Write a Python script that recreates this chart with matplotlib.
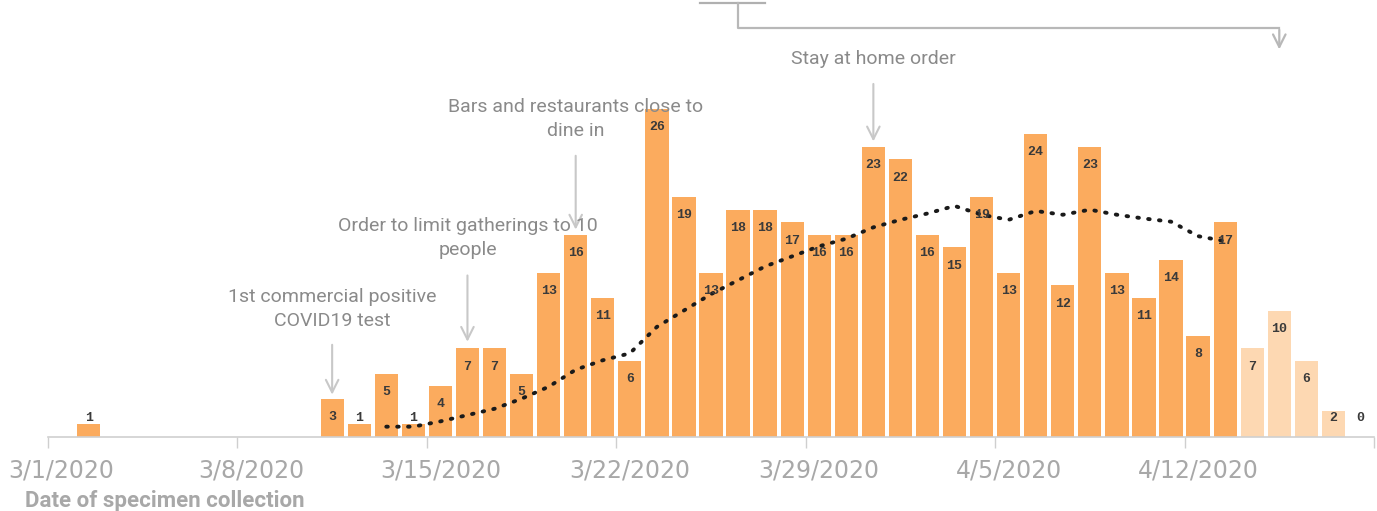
import matplotlib.pyplot as plt

# daily positive cases by date of specimen collection (3/1/2020 .. 4/18/2020)
dates = ["3/1", "3/2", "3/3", "3/4", "3/5", "3/6", "3/7", "3/8", "3/9", "3/10",
         "3/11", "3/12", "3/13", "3/14", "3/15", "3/16", "3/17", "3/18", "3/19", "3/20",
         "3/21", "3/22", "3/23", "3/24", "3/25", "3/26", "3/27", "3/28", "3/29", "3/30",
         "3/31", "4/1", "4/2", "4/3", "4/4", "4/5", "4/6", "4/7", "4/8", "4/9",
         "4/10", "4/11", "4/12", "4/13", "4/14", "4/15", "4/16", "4/17", "4/18"]
cases = [0, 1, 0, 0, 0, 0, 0, 0, 0, 0,
         3, 1, 5, 1, 4, 7, 7, 5, 13, 16,
         11, 6, 26, 19, 13, 18, 18, 17, 16, 16,
         23, 22, 16, 15, 19, 13, 24, 12, 23, 13,
         11, 14, 8, 17, 7, 10, 6, 2, 0]
# days whose counts are still incomplete (lighter bars)
n_complete = 44
labelled_from = 10  # zero days before 3/11 carry no label

# moving average line, starts 3/13, ends 4/13
avg_start = 12
avg_values = [0.78, 0.78, 1.2, 1.7, 2.2, 3.0, 3.95, 5.3, 6.05, 6.6,
              8.7, 10.0, 11.3, 12.4, 13.5, 14.3, 15.1, 15.7, 16.6, 17.2,
              17.7, 18.3, 17.6, 17.2, 17.9, 17.6, 18.0, 17.6, 17.3, 17.05,
              15.9, 15.5]

tick_days = [0, 7, 14, 21, 28, 35, 42]
tick_labels = ["3/1/2020", "3/8/2020", "3/15/2020", "3/22/2020",
               "3/29/2020", "4/5/2020", "4/12/2020"]

# annotations: (day index, text lines, first line y, arrow start y, arrow end y)
events = [
    (10, ["1st commercial positive", "COVID19 test"], 11.1, 7.5, 3.1),
    (15, ["Order to limit gatherings to 10", "people"], 16.7, 13.0, 7.3),
    (19, ["Bars and restaurants close to", "dine in"], 26.15, 22.5, 16.2),
    (30, ["Stay at home order"], 30.0, 28.2, 23.2),
]
line_step = 1.9

orange = "#fbab5e"
light = "#fdd8b2"
grey_txt = "#8a8a8a"

fig = plt.figure(figsize=(13.77, 5.11), dpi=100)
ax = fig.add_axes([48 / 1377, 74.5 / 511, 1326 / 1377, 436.5 / 511])

x = list(range(len(cases)))
colors = [orange if i < n_complete else light for i in x]
ax.bar(x, cases, width=0.86, color=colors, zorder=2)

for i, v in enumerate(cases):
    if i < labelled_from and v == 0:
        continue
    ax.text(i, max(v - 1.45, 1.45), str(v), ha="center", va="center",
            fontsize=9.5, family="Liberation Mono", weight="bold", color="#3a3a3a", zorder=4)

avg_x = list(range(avg_start, avg_start + len(avg_values)))
ax.plot(avg_x, avg_values, color="#1a1a1a", lw=2.8, linestyle=(0, (0.4, 2.4)),
        dash_capstyle="round", zorder=3)

for d, lines, ty, y0, y1 in events:
    for k, line in enumerate(lines):
        ax.text(d, ty - k * line_step, line, ha="center", va="center", fontsize=14,
                family="Roboto", color=grey_txt, zorder=5)
    ax.annotate("", xy=(d, y1), xytext=(d, y0),
                arrowprops=dict(arrowstyle="->,head_length=0.9,head_width=0.45",
                                color="#c8c8c8", lw=1.5), zorder=1)

# bracket at the top leading to the lighter bars
ax.plot([23.6, 26.0], [34.4, 34.4], color="#b0b0b0", lw=1.6, clip_on=False)
ax.plot([25.0, 25.0, 45.0], [34.4, 32.4, 32.4], color="#b8b8b8", lw=1.6, clip_on=False)
ax.annotate("", xy=(45.0, 30.5), xytext=(45.0, 32.5),
            arrowprops=dict(arrowstyle="->,head_length=0.9,head_width=0.45",
                            color="#b8b8b8", lw=1.6), annotation_clip=False)

ax.set_xlim(-0.5, len(cases) - 0.5)
ax.set_ylim(0, 436.5 / 12.6)

ax.set_xticks([t - 0.5 for t in tick_days] + [len(cases) - 0.5])
ax.set_xticklabels([])
ax.set_xticks(tick_days, minor=True)
ax.set_xticklabels(tick_labels, minor=True)
ax.tick_params(axis="x", which="major", length=8, color="#cfcfcf", width=1)
ax.tick_params(axis="x", which="minor", length=0, pad=16, labelsize=17, labelcolor="#a8a8a8")
ax.set_yticks([])
for s in ["left", "right", "top"]:
    ax.spines[s].set_visible(False)
ax.spines["bottom"].set_color("#d0d0d0")
ax.spines["bottom"].set_linewidth(1.2)

fig.text(25 / 1377, 4 / 511, "Date of specimen collection", ha="left", va="baseline",
         fontsize=16, family="Roboto", weight="bold", color="#a8a8a8")

fig.savefig("out.png", dpi=100)
